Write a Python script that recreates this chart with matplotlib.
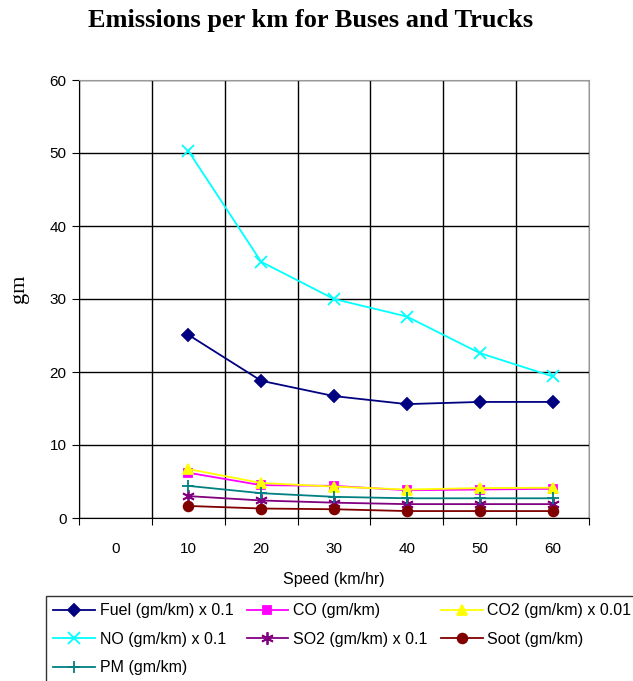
import numpy as np
import matplotlib
matplotlib.use("Agg")
import matplotlib.pyplot as plt
from matplotlib.ticker import FixedLocator, NullFormatter

categories = ["0", "10", "20", "30", "40", "50", "60"]
speeds = ["10", "20", "30", "40", "50", "60"]

fuel = [25.1, 18.8, 16.7, 15.6, 15.9, 15.9]
co = [6.2, 4.5, 4.4, 3.8, 3.9, 4.0]
co2 = [6.7, 4.8, 4.3, 3.9, 4.1, 4.15]
no = [50.3, 35.1, 30.0, 27.6, 22.6, 19.4]
so2 = [3.0, 2.4, 2.1, 1.9, 1.9, 1.9]
soot = [1.65, 1.3, 1.2, 0.95, 0.95, 0.95]
pm = [4.4, 3.4, 2.9, 2.7, 2.7, 2.7]

labels = ["Fuel (gm/km) x 0.1", "CO (gm/km)", "CO2 (gm/km) x 0.01",
          "NO (gm/km) x 0.1", "SO2 (gm/km) x 0.1", "Soot (gm/km)", "PM (gm/km)"]

fig = plt.figure(figsize=(6.33, 6.81), dpi=100)
ax = fig.add_axes([79/633, 1-518/681, (589-79)/633, (518-80)/681])

xpos = [categories.index(s) for s in speeds]

series = [
    (fuel, "#000080", "D", 6, labels[0]),
    (co, "#FF00FF", "s", 6, labels[1]),
    (co2, "#FFFF00", "^", 7, labels[2]),
    (no, "#00FFFF", "x", 8, labels[3]),
    (so2, "#800080", (6, 2, 0), 9, labels[4]),
    (soot, "#800000", "o", 7, labels[5]),
    (pm, "#008080", "+", 9, labels[6]),
]
handles = {}
for vals, col, mk, ms, lab in series:
    h, = ax.plot(xpos, vals, color=col, marker=mk, markersize=ms, lw=1.3,
                 markeredgecolor=col, markerfacecolor=col, markeredgewidth=1.3,
                 label=lab, clip_on=False, zorder=3)
    handles[lab] = h

ax.set_xlim(-0.5, len(categories) - 0.5)
ax.set_ylim(0, 60)
ax.set_yticks(np.arange(0, 61, 10))
ax.xaxis.set_major_locator(FixedLocator(np.arange(-0.5, len(categories), 1.0)))
ax.xaxis.set_major_formatter(NullFormatter())
ax.xaxis.set_minor_locator(FixedLocator(np.arange(len(categories))))
ax.set_xticklabels(categories, minor=True)
ax.tick_params(axis="x", which="minor", length=0, pad=17)
ax.tick_params(axis="x", which="major", length=5, direction="out", color="black")
ax.tick_params(axis="y", length=5, direction="out", color="black", pad=4)
for lab in ax.get_xticklabels(minor=True) + ax.get_yticklabels():
    lab.set_fontfamily("Liberation Sans")
    lab.set_fontsize(11)

ax.grid(True, which="major", color="black", lw=1.0, zorder=0)
ax.spines["left"].set_color("black")
ax.spines["bottom"].set_color("black")
ax.spines["top"].set_color("#999999")
ax.spines["right"].set_color("#999999")

ax.set_xlabel("Speed (km/hr)", fontfamily="Liberation Sans", fontsize=11.5, labelpad=12)
fig.text(19/633, 1-289/681, "gm", rotation=90, ha="center", va="center",
         fontfamily="Liberation Serif", fontsize=16)

fig.text(311/633, 1-21/681, "Emissions per km for Buses and Trucks",
         ha="center", va="center", fontfamily="Liberation Serif",
         fontweight="bold", fontsize=19)

order = [labels[0], labels[3], labels[6], labels[1], labels[4], labels[2], labels[5]]
leg = fig.legend([handles[l] for l in order], order, ncol=3,
                 loc="upper left", bbox_to_anchor=(46/633, 1-596/681),
                 frameon=True, fancybox=False,
                 prop={"family": "Liberation Sans", "size": 11.5},
                 handlelength=2.6, handletextpad=0.3, labelspacing=0.85,
                 columnspacing=0.85, borderaxespad=0, borderpad=0.45)
leg.get_frame().set_edgecolor("black")
leg.get_frame().set_linewidth(1.0)

fig.savefig("out.png", dpi=100)
